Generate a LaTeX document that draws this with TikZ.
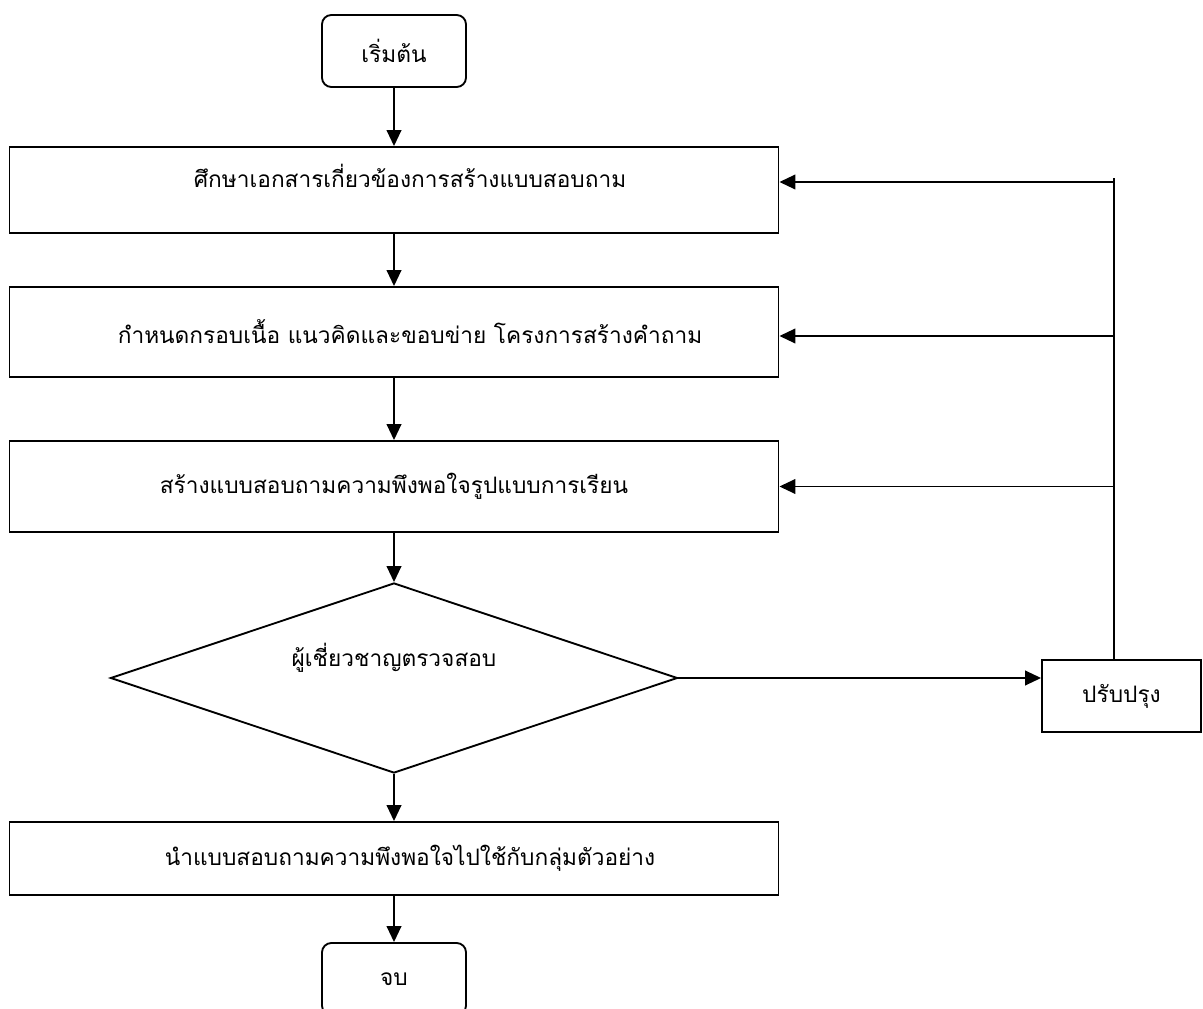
\documentclass[tikz,border=0pt]{standalone}
\usepackage{fontspec}
\newfontfamily\thaifont[Script=Thai]{Loma}
\usetikzlibrary{shapes.geometric,arrows.meta}
\begin{document}
\begin{tikzpicture}[x=0.75pt,y=-0.75pt,
  every node/.style={font=\thaifont\fontsize{17}{20}\selectfont},
  box/.style={draw,line width=1.4pt,minimum width=769*0.75pt,inner sep=0pt},
  term/.style={draw,line width=1.4pt,rounded corners=7pt,minimum width=144*0.75pt,minimum height=72*0.75pt,inner sep=0pt},
  dec/.style={draw,line width=1.4pt,diamond,aspect=3,minimum width=567*0.75pt,minimum height=190*0.75pt,inner sep=0pt},
  arr/.style={line width=1.4pt,-{Triangle[length=12pt,width=11pt]}},
  ln/.style={line width=1.4pt}]
\useasboundingbox (0,0) rectangle (1203,1009);
\clip (0,0) rectangle (1203,1009);
\fill[white] (0,0) rectangle (1203,1009);

\node[term] (start) at (394,51) {เริ่มต้น};
\node[box,minimum height=86*0.75pt] (b1) at (394,190) {\hspace*{24pt}\raisebox{2pt}[0pt][0pt]{ศึกษาเอกสารเกี่ยวข้องการสร้างแบบสอบถาม}};
\node[box,minimum height=90*0.75pt] (b2) at (394,332) {\hspace*{24pt}กำหนดกรอบเนื้อ แนวคิดและขอบข่าย โครงการสร้างคำถาม};
\node[box,minimum height=91*0.75pt] (b3) at (394,486.5) {สร้างแบบสอบถามความพึงพอใจรูปแบบการเรียน};
\node[dec] (d) at (394,678) {\raisebox{9pt}[0pt][0pt]{ผู้เชี่ยวชาญตรวจสอบ}};
\node[term,rounded corners=0pt,minimum width=159*0.75pt] (fix) at (1121.5,696) {ปรับปรุง};
\node[box,minimum height=73*0.75pt] (b4) at (394,858.5) {\hspace*{24pt}นำแบบสอบถามความพึงพอใจไปใช้กับกลุ่มตัวอย่าง};
\node[term] (end) at (394,979) {\raisebox{-3pt}{จบ}};

\coordinate (ft) at (1114,660);
\coordinate (top) at (1114,178);
\coordinate (j1) at (1114,182);
\coordinate (j2) at (1114,336);
\coordinate (j3) at (1114,486.5);

\draw[arr] (start.south) -- (b1.north);
\draw[arr] (b1.south) -- (b2.north);
\draw[arr] (b2.south) -- (b3.north);
\draw[arr] (b3.south) -- (d.north);
\draw[arr] (d.south) -- (b4.north);
\draw[arr] (b4.south) -- (end.north);
\draw[arr] (d.east) -- (d.east -| fix.west);
\draw[ln] (ft) -- (top);
\draw[arr] (j1) -- (j1 -| b1.east);
\draw[arr] (j2) -- (j2 -| b2.east);
\draw[arr] (j3) -- (j3 -| b3.east);
\end{tikzpicture}
\end{document}
